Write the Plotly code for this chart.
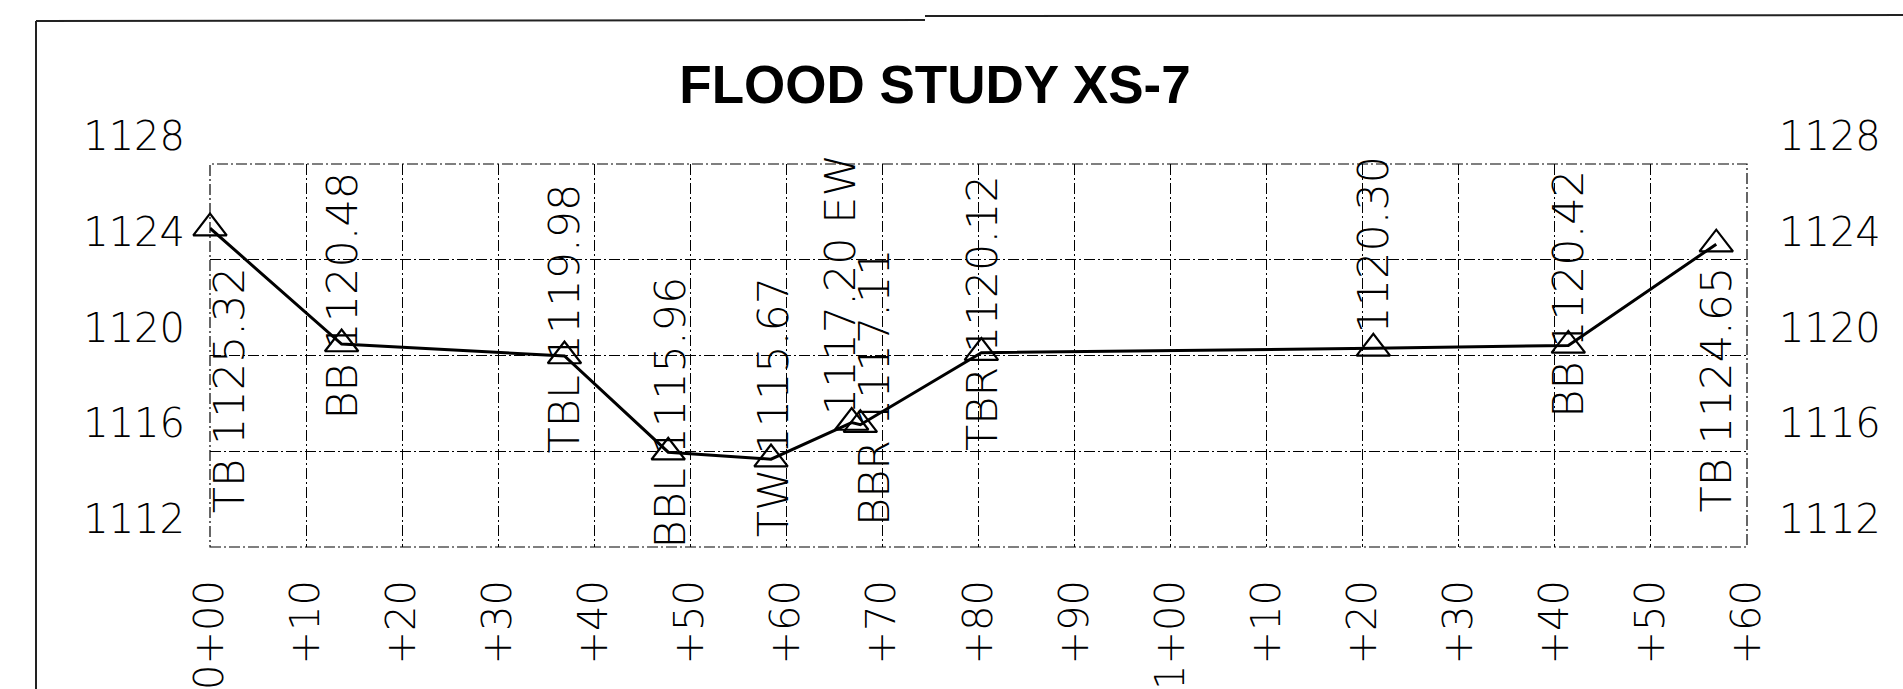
import plotly.graph_objects as go

# ---------------- data ----------------
stations = [0, 13.7, 36.9, 47.7, 58.4, 66.8, 67.7, 80.3, 121.1, 141.4, 156.8]
elevations = [1125.32, 1120.48, 1119.98, 1115.96, 1115.67, 1117.20, 1117.11,
              1120.12, 1120.30, 1120.42, 1124.65]
point_labels = ["TB 1125.32", "BB 1120.48", "TBL 1119.98", "BBL 1115.96",
                "TW 1115.67", "1117.20 EW", "BBR 1117.11", "TBR 1120.12",
                "1120.30", "BB 1120.42", "TB 1124.65"]
x_tick_values = [0, 10, 20, 30, 40, 50, 60, 70, 80, 90, 100, 110, 120, 130, 140, 150, 160]
x_tick_labels = ["0+00", "+10", "+20", "+30", "+40", "+50", "+60", "+70", "+80",
                 "+90", "1+00", "+10", "+20", "+30", "+40", "+50", "+60"]
y_tick_values = [1112, 1116, 1120, 1124, 1128]
y_tick_labels = ["1112", "1116", "1120", "1124", "1128"]
title_text = "FLOOD STUDY XS-7"

# ---------------- label placement (pixel offsets from each point) ----------------
label_dx = [19, 0, 0, 2, 2, -12, 13, 0, 0, 0, 0]
label_dy = [-162, 48, 38, 40, 52, 138, 38, 40, 104, 52, -145]

W, H = 1903, 689
L, R, T, B = 210, 156, 164, 142
PW, PH = W - L - R, H - T - B

def px(x):
    return (x - L) / PW

def py(y):
    return (H - B - y) / PH

FONT = "DejaVu Sans"
DASH = "11px,3px,2px,3px"
GRID = dict(showgrid=True, gridcolor="#000000", gridwidth=1.2,
            griddash=DASH, zeroline=False, showline=False, automargin=False)

fig = go.Figure()
fig.add_trace(go.Scatter(
    x=stations, y=elevations, mode="lines+markers",
    line=dict(color="black", width=3),
    marker=dict(symbol="triangle-up-open", size=29, color="black",
                line=dict(color="black", width=2.2)),
    showlegend=False, hoverinfo="skip", cliponaxis=False,
))
# invisible trace for the right-hand axis
fig.add_trace(go.Scatter(x=[stations[0]], y=[elevations[0]], yaxis="y2",
                         mode="markers", marker=dict(opacity=0),
                         showlegend=False, hoverinfo="skip"))

annotations = []
for s, e, t, dx, dy in zip(stations, elevations, point_labels, label_dx, label_dy):
    annotations.append(dict(
        x=s, y=e, xref="x", yref="y", text=t, showarrow=False,
        textangle=-90, xanchor="center", yanchor="middle",
        xshift=dx, yshift=dy,
        font=dict(family=FONT, size=43, color="black", weight=200),
    ))

frame = dict(color="#222222", width=2)
grid_edge = dict(color="#000000", width=1.2, dash=DASH)
shapes = [
    # plot box edges (dash-dot like the grid)
    dict(type="rect", xref="x domain", yref="y domain", x0=0, x1=1, y0=0, y1=1,
         line=grid_edge, layer="below"),
    # drawing frame
    dict(type="line", xref="paper", yref="paper", x0=px(36), x1=px(36),
         y0=py(21), y1=py(H + 5), line=frame),
    dict(type="line", xref="paper", yref="paper", x0=px(36), x1=px(925),
         y0=py(21), y1=py(20), line=frame),
    dict(type="line", xref="paper", yref="paper", x0=px(925), x1=px(W + 5),
         y0=py(16), y1=py(15), line=frame),
]

tickfont = dict(family=FONT, size=40, color="black", weight=200)

fig.update_layout(
    width=W, height=H, autosize=False,
    margin=dict(l=L, r=R, t=T, b=B, pad=0, autoexpand=False),
    paper_bgcolor="white", plot_bgcolor="white",
    title=dict(text=title_text, x=935 / W, xanchor="center",
               y=1 - 84 / H, yanchor="middle", yref="container", automargin=False,
               font=dict(family="Liberation Sans", size=53, color="black", weight="bold")),
    xaxis=dict(range=[0, 160], tickmode="array", tickvals=x_tick_values,
               ticktext=x_tick_labels, tickangle=-90, ticks="",
               ticklabelstandoff=24, tickfont=tickfont, **GRID),
    yaxis=dict(range=[1112, 1128], tickmode="array", tickvals=y_tick_values,
               ticktext=y_tick_labels, ticks="", ticklabelposition="outside top",
               ticklabelstandoff=24, tickfont=tickfont, **GRID),
    yaxis2=dict(range=[1112, 1128], overlaying="y", side="right",
                tickmode="array", tickvals=y_tick_values, ticktext=y_tick_labels,
                ticks="", ticklabelposition="outside top", ticklabelstandoff=31,
                tickfont=tickfont, showgrid=False, zeroline=False, showline=False,
                automargin=False),
    annotations=annotations,
    shapes=shapes,
)

fig.write_html("out.html", config={"displayModeBar": False},
               post_script="document.body.style.margin='0';document.body.style.overflow='hidden';")
